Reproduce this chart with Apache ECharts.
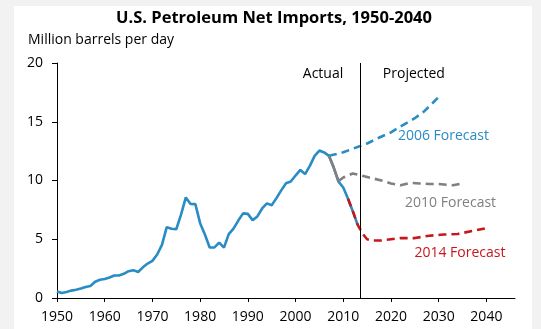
<!DOCTYPE html>
<html>
<head>
<meta charset="utf-8">
<script src="https://cdn.jsdelivr.net/npm/echarts@6/dist/echarts.min.js"></script>
<style>
  html, body { margin: 0; padding: 0; background: #f2f2f2; width: 541px; height: 329px; overflow: hidden; }
  #chart { position: absolute; left: 14px; top: 6px; width: 518px; height: 323px; background: #ffffff; }
</style>
</head>
<body>
<div id="chart"></div>
<script>
// Net imports, million barrels per day
const actualStartYear = 1950;
const actualValues = [
  0.55, 0.42, 0.52, 0.63, 0.70, 0.80, 0.94, 1.02, 1.39, 1.55,
  1.61, 1.74, 1.91, 1.91, 2.06, 2.28, 2.37, 2.21, 2.61, 2.93,
  3.16, 3.70, 4.52, 6.03, 5.89, 5.85, 7.09, 8.56, 8.00, 7.99,
  6.37, 5.40, 4.30, 4.31, 4.72, 4.29, 5.44, 5.91, 6.59, 7.20,
  7.16, 6.63, 6.94, 7.62, 8.05, 7.89, 8.50, 9.16, 9.76, 9.91,
  10.42, 10.90, 10.55, 11.24, 12.10, 12.55, 12.39, 12.10, 11.10, 9.90,
  9.40, 8.45, 7.39, 6.24
];

const forecast2006Years = [2007, 2010, 2013, 2015, 2017, 2020, 2022, 2025, 2027, 2030];
const forecast2006Values = [12.10, 12.40, 12.85, 13.15, 13.55, 14.10, 14.60, 15.30, 15.90, 17.10];

const forecast2010HistYears = [2007, 2008, 2009];
const forecast2010HistValues = [12.10, 11.10, 9.95];
const forecast2010Years = [2009, 2010, 2012, 2014, 2016, 2018, 2020, 2022, 2024, 2026, 2028, 2030, 2033, 2035];
const forecast2010Values = [9.95, 10.25, 10.60, 10.40, 10.20, 10.00, 9.75, 9.60, 9.80, 9.75, 9.70, 9.70, 9.60, 9.75];

const forecast2014Years = [2011, 2012, 2013, 2014, 2015, 2016, 2018, 2020, 2022, 2025, 2028, 2031, 2034, 2037, 2040];
const forecast2014Values = [8.45, 7.39, 6.24, 5.50, 5.00, 4.90, 4.90, 5.00, 5.10, 5.10, 5.30, 5.40, 5.45, 5.70, 5.95];

const xTickYears = [1950, 1960, 1970, 1980, 1990, 2000, 2010, 2020, 2030, 2040];
const dividerYear = 2013.5;

const blue = '#2a8cc4';
const gray = '#808080';
const red = '#c8161d';
const fontFamily = '"Open Sans", sans-serif';

const pairs = (xs, ys) => xs.map((x, i) => [x, ys[i]]);
const actualData = actualValues.map((v, i) => [actualStartYear + i, v]);

function textPoint(coord, text, color, align) {
  return {
    coord: coord,
    symbol: 'circle',
    symbolSize: 0,
    label: {
      show: true, position: 'inside', formatter: text, color: color,
      fontFamily: fontFamily, fontSize: 14, align: align || 'center'
    }
  };
}

const chart = echarts.init(document.getElementById('chart'));
chart.setOption({
  animation: false,
  title: [
    {
      text: 'U.S. Petroleum Net Imports, 1950-2040',
      left: 260, top: 4, textAlign: 'center', padding: 0,
      textStyle: { fontFamily: fontFamily, fontWeight: 'bold', fontSize: 16.5, color: '#000' }
    },
    {
      text: 'Million barrels per day',
      left: 14, top: 27, padding: 0,
      textStyle: { fontFamily: fontFamily, fontWeight: 'normal', fontSize: 14, color: '#000' }
    }
  ],
  grid: { left: 43, right: 17, top: 57, bottom: 31, containLabel: false },
  xAxis: {
    type: 'value', min: 1950, max: 2046, interval: 10,
    splitLine: { show: false },
    axisLine: { lineStyle: { color: '#000', width: 1 } },
    axisTick: { length: 4, lineStyle: { color: '#000' }, customValues: xTickYears },
    axisLabel: {
      customValues: xTickYears, formatter: (v) => String(v),
      color: '#000', fontFamily: fontFamily, fontSize: 14, margin: 12
    }
  },
  yAxis: {
    type: 'value', min: 0, max: 20, interval: 5,
    splitLine: { show: false },
    axisLine: { show: true, lineStyle: { color: '#000', width: 1 } },
    axisTick: { show: true, length: 5, lineStyle: { color: '#000' } },
    axisLabel: { color: '#000', fontFamily: fontFamily, fontSize: 14, margin: 14 }
  },
  series: [
    {
      name: 'Actual', type: 'line', data: actualData, showSymbol: false,
      lineStyle: { color: blue, width: 2.6 }, z: 2,
      markLine: {
        silent: true, symbol: 'none', label: { show: false },
        lineStyle: { color: '#000', width: 1, type: 'solid' },
        data: [{ xAxis: dividerYear }]
      },
      markPoint: {
        data: [
          textPoint([dividerYear - 3.5, 19.1], 'Actual', '#000', 'right'),
          textPoint([dividerYear + 4.8, 19.1], 'Projected', '#000', 'left')
        ]
      }
    },
    {
      name: '2006 Forecast', type: 'line', data: pairs(forecast2006Years, forecast2006Values), showSymbol: false,
      lineStyle: { color: blue, width: 2.6, type: [8, 5] }, z: 3,
      markPoint: { data: [textPoint([2031.0, 13.76], '2006 Forecast', blue)] }
    },
    {
      name: '2010 Forecast history', type: 'line', data: pairs(forecast2010HistYears, forecast2010HistValues), showSymbol: false,
      lineStyle: { color: gray, width: 2.6 }, z: 3
    },
    {
      name: '2010 Forecast', type: 'line', data: pairs(forecast2010Years, forecast2010Values), showSymbol: false,
      lineStyle: { color: gray, width: 2.6, type: [8, 5] }, z: 3,
      markPoint: { data: [textPoint([2032.5, 8.1], '2010 Forecast', gray)] }
    },
    {
      name: '2014 Forecast', type: 'line', data: pairs(forecast2014Years, forecast2014Values), showSymbol: false,
      lineStyle: { color: red, width: 2.6, type: [8, 5] }, z: 4,
      markPoint: { data: [textPoint([2034.45, 3.85], '2014 Forecast', red)] }
    }
  ]
});
</script>
</body>
</html>
